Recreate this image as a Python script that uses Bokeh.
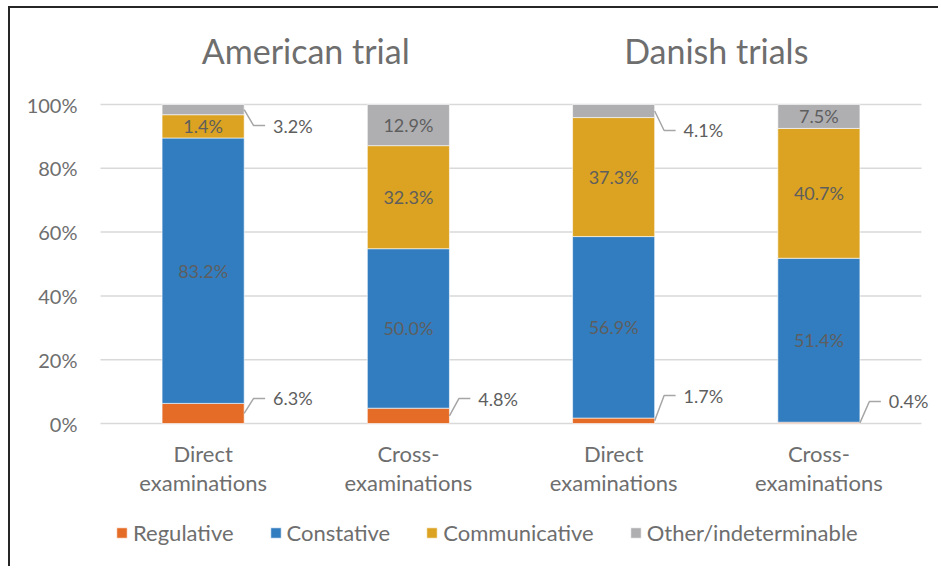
from bokeh.plotting import figure
from bokeh.models import (Range1d, ColumnDataSource, LabelSet, Label, Legend, LegendItem,
                          PrintfTickFormatter, FixedTicker)
from bokeh.core.properties import value
from bokeh.embed import file_html
from bokeh.resources import INLINE

# ---------------- data ----------------
groups = ["American trial", "Danish trials"]
categories = ["Direct\nexaminations", "Cross-\nexaminations", "Direct\nexaminations", "Cross-\nexaminations"]
series = ["Regulative", "Constative", "Communicative", "Other/indeterminable"]
regulative = [6.3, 4.8, 1.7, 0.4]
constative = [83.2, 50.0, 56.9, 51.4]
communicative = [7.3, 32.3, 37.3, 40.7]          # bar height as drawn
other = [3.2, 12.9, 4.1, 7.5]
communicative_labels = ["1.4%", "32.3%", "37.3%", "40.7%"]   # labels as printed
y_ticks = [0, 20, 40, 60, 80, 100]

# ---------------- styles / layout ----------------
colors = ["#E46C26", "#327DC0", "#DBA321", "#AFAFB2"]
FONT = "Lato"
AXIS_TXT = "#6E6E6E"
DATA_TXT = "#5E5E5E"
BAR_W = 0.4
outside = {(0, 0): 4.7, (0, 1): 5.4, (0, 2): 7.9, (0, 3): 6.7,
           (3, 0): -5.0, (3, 2): -6.1}
BEND_DX, END_DX, LABEL_DX = 0.046, 0.102, 0.141

W, H = 930, 560                 # canvas size
LEFT = 75                       # space for the y axis
PX_X = 205.25                   # pixels per category
PX_Y = 3.19                     # pixels per percent
X0_PX, Y100_PX, Y0_PX = 15, 96, 415   # positions of x=0 (from frame left), 100% and 0% (from top)

n = len(categories)
xs = [i + 0.5 for i in range(n)]
x_start = -X0_PX / PX_X
x_end = x_start + (W - LEFT) / PX_X
y_end = 100 + Y100_PX / PX_Y
y_start = -(H - Y0_PX) / PX_Y

p = figure(width=W, height=H, output_backend="svg", toolbar_location=None,
           x_range=Range1d(x_start, x_end), y_range=Range1d(y_start, y_end),
           x_axis_location=None, min_border_left=LEFT, min_border_right=0,
           min_border_top=0, min_border_bottom=0)
p.styles = {"margin-left": "8px", "margin-top": "6px",
            "border-left": "2px solid #262626", "border-top": "2px solid #262626"}
p.outline_line_color = None
p.background_fill_color = "white"
p.border_fill_color = "white"
p.grid.visible = False

# gridlines across the category span only
p.segment(x0=[0] * len(y_ticks), x1=[n] * len(y_ticks), y0=y_ticks, y1=y_ticks,
          line_color="#D9D9D9", line_width=1.5)

ya = p.yaxis[0]
ya.ticker = FixedTicker(ticks=y_ticks)
ya.formatter = PrintfTickFormatter(format="%d%%")
ya.axis_line_color = None
ya.major_tick_line_color = None
ya.minor_tick_line_color = None
ya.major_label_text_font = FONT
ya.major_label_text_font_size = "20px"
ya.major_label_text_color = AXIS_TXT
ya.major_label_standoff = 2

src = ColumnDataSource(dict(x=xs, Regulative=regulative, Constative=constative,
                            Communicative=communicative, Other=other))
rends = p.vbar_stack(["Regulative", "Constative", "Communicative", "Other"], x="x",
                     width=BAR_W, source=src, fill_color=colors,
                     line_color="white", line_width=0.6)

# ---- data labels ----
vals = [regulative, constative, communicative, other]
in_x, in_y, in_t = [], [], []
out_x, out_y, out_t = [], [], []
lead_xs, lead_ys = [], []
for j in range(n):
    base = 0.0
    for s in range(len(series)):
        v = vals[s][j]
        mid = base + v / 2
        txt = communicative_labels[j] if s == 2 else f"{v:.1f}%"
        if (s, j) in outside:
            dy = outside[(s, j)]
            xr = xs[j] + BAR_W / 2
            lead_xs.append([xr, xr + BEND_DX, xr + END_DX])
            lead_ys.append([mid, mid + dy, mid + dy])
            out_x.append(xr + LABEL_DX); out_y.append(mid + dy); out_t.append(txt)
        else:
            in_x.append(xs[j]); in_y.append(mid); in_t.append(txt)
        base += v

p.multi_line(lead_xs, lead_ys, line_color="#A6A6A6", line_width=1.5)

for (lx, ly, lt, al) in [(in_x, in_y, in_t, "center"), (out_x, out_y, out_t, "left")]:
    p.add_layout(LabelSet(x="x", y="y", text="t", source=ColumnDataSource(dict(x=lx, y=ly, t=lt)),
                          text_align=al, text_baseline="middle", text_font=value(FONT),
                          text_font_size="18px", text_color=DATA_TXT))

# ---- category labels ----
for j, c in enumerate(categories):
    for k, line in enumerate(c.split("\n")):
        p.add_layout(Label(x=xs[j], y=0, y_offset=-30 - 29 * k, text=line,
                           text_align="center", text_baseline="middle",
                           text_font=FONT, text_font_size="22px", text_color=AXIS_TXT))

# ---- group titles ----
for g, name in enumerate(groups):
    gx = (xs[2 * g] + xs[2 * g + 1]) / 2
    p.add_layout(Label(x=gx, y=100, y_offset=54, text=name, text_align="center",
                       text_baseline="middle", text_font=FONT, text_font_size="34px",
                       text_color=AXIS_TXT))

# ---- legend ----
legend = Legend(items=[LegendItem(label=series[i], renderers=[rends[i]]) for i in range(len(series))],
                orientation="horizontal", location=(30, 22),
                glyph_width=13, glyph_height=13, label_standoff=5, spacing=35, label_height=24,
                padding=0, margin=0, border_line_color=None, background_fill_alpha=0,
                label_text_font=FONT, label_text_font_size="22px", label_text_color=AXIS_TXT)
p.add_layout(legend, "center")

open("out.html", "w").write(file_html(p, INLINE))
